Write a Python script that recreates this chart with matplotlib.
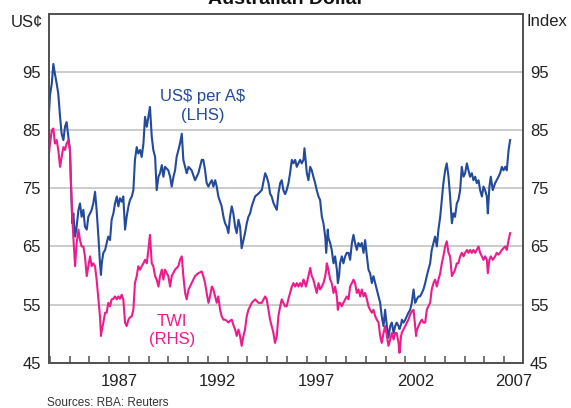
import matplotlib
matplotlib.use("Agg")
import matplotlib.pyplot as plt

plt.rcParams['font.family'] = ['Liberation Sans', 'DejaVu Sans']

# values (decimal years)
dates = [
    1983.96, 1984.01, 1984.10, 1984.18, 1984.26, 1984.35, 1984.43, 1984.52, 1984.60, 1984.69,
    1984.77, 1984.85, 1984.94, 1985.02, 1985.07, 1985.14, 1985.19, 1985.28, 1985.36, 1985.45,
    1985.53, 1985.61, 1985.70, 1985.78, 1985.87, 1985.95, 1986.04, 1986.12, 1986.20, 1986.29,
    1986.37, 1986.46, 1986.54, 1986.59, 1986.63, 1986.71, 1986.80, 1986.88, 1986.96, 1987.05,
    1987.13, 1987.22, 1987.30, 1987.39, 1987.47, 1987.55, 1987.64, 1987.72, 1987.81, 1987.89,
    1987.98, 1988.06, 1988.15, 1988.23, 1988.31, 1988.40, 1988.48, 1988.57, 1988.65, 1988.74,
    1988.82, 1988.91, 1988.99, 1989.07, 1989.16, 1989.24, 1989.33, 1989.41, 1989.50, 1989.58,
    1989.67, 1989.75, 1989.83, 1990.00, 1990.09, 1990.17, 1990.26, 1990.34, 1990.42, 1990.51,
    1990.59, 1990.68, 1990.76, 1990.85, 1990.93, 1991.02, 1991.10, 1991.18, 1991.35, 1991.52,
    1991.69, 1991.77, 1991.86, 1991.94, 1992.03, 1992.11, 1992.20, 1992.28, 1992.37, 1992.45,
    1992.53, 1992.62, 1992.70, 1992.79, 1992.87, 1992.96, 1993.04, 1993.12, 1993.21, 1993.29,
    1993.38, 1993.46, 1993.55, 1993.63, 1993.71, 1993.80, 1993.88, 1993.97, 1994.05, 1994.14,
    1994.22, 1994.39, 1994.56, 1994.73, 1994.90, 1994.98, 1995.07, 1995.15, 1995.23, 1995.32,
    1995.40, 1995.49, 1995.57, 1995.66, 1995.74, 1995.82, 1995.91, 1995.99, 1996.08, 1996.16,
    1996.25, 1996.33, 1996.42, 1996.50, 1996.58, 1996.67, 1996.75, 1996.84, 1996.89, 1996.96,
    1997.01, 1997.09, 1997.18, 1997.26, 1997.34, 1997.43, 1997.51, 1997.60, 1997.68, 1997.77,
    1997.85, 1997.94, 1997.99, 1998.02, 1998.07, 1998.10, 1998.19, 1998.27, 1998.36, 1998.44,
    1998.53, 1998.58, 1998.64, 1998.69, 1998.78, 1998.86, 1998.95, 1999.03, 1999.12, 1999.20,
    1999.29, 1999.37, 1999.45, 1999.54, 1999.62, 1999.71, 1999.79, 1999.88, 1999.96, 2000.05,
    2000.13, 2000.21, 2000.30, 2000.38, 2000.47, 2000.55, 2000.64, 2000.72, 2000.80, 2000.89,
    2000.97, 2001.06, 2001.14, 2001.23, 2001.31, 2001.40, 2001.48, 2001.56, 2001.65, 2001.70,
    2001.78, 2001.82, 2001.90, 2001.99, 2002.07, 2002.15, 2002.24, 2002.32, 2002.41, 2002.49,
    2002.54, 2002.57, 2002.66, 2002.74, 2002.83, 2002.91, 2003.00, 2003.08, 2003.16, 2003.25,
    2003.33, 2003.42, 2003.50, 2003.59, 2003.67, 2003.76, 2003.84, 2003.92, 2004.01, 2004.09,
    2004.18, 2004.26, 2004.35, 2004.43, 2004.51, 2004.60, 2004.68, 2004.77, 2004.85, 2004.94,
    2005.02, 2005.11, 2005.19, 2005.27, 2005.36, 2005.44, 2005.53, 2005.61, 2005.70, 2005.78,
    2005.87, 2005.95, 2006.03, 2006.12, 2006.17, 2006.25, 2006.32, 2006.42, 2006.54, 2006.62,
    2006.71, 2006.79, 2006.88, 2006.96, 2007.05, 2007.13, 2007.22, 2007.30,
]

# US cents per A$ (LHS)
usd_per_aud = [
    88.0, 91.0, 93.0, 96.4, 94.7, 93.0, 91.3, 87.3, 84.4, 83.3,
    85.6, 86.4, 83.9, 81.6, 75.9, 69.0, 70.7, 66.7, 68.4, 71.3,
    72.4, 70.1, 71.3, 68.4, 67.9, 70.1, 70.7, 71.3, 72.4, 74.4,
    71.3, 66.7, 62.1, 60.1, 62.1, 63.9, 64.4, 65.6, 66.7, 66.1,
    69.6, 70.7, 72.4, 73.6, 71.9, 73.3, 72.7, 73.6, 67.9, 70.1,
    71.9, 73.0, 73.6, 74.7, 79.9, 82.1, 81.0, 81.6, 80.4, 82.7,
    87.3, 85.6, 87.3, 89.0, 83.9, 81.6, 80.4, 74.7, 77.0, 77.6,
    79.0, 77.0, 78.7, 78.1, 77.0, 75.3, 77.0, 78.1, 80.4, 81.6,
    82.7, 84.4, 79.9, 78.7, 77.6, 78.7, 78.4, 78.1, 76.4, 77.6,
    79.9, 79.9, 78.1, 75.9, 75.3, 75.9, 76.4, 75.3, 76.4, 75.3,
    73.6, 72.7, 71.9, 70.1, 69.0, 68.4, 67.3, 70.1, 71.9, 70.7,
    68.4, 67.3, 69.6, 68.4, 64.7, 66.1, 67.3, 69.0, 70.1, 70.7,
    71.9, 73.6, 74.1, 74.7, 77.6, 77.0, 75.9, 74.1, 73.6, 72.5,
    71.9, 71.3, 74.1, 75.9, 76.4, 74.7, 74.0, 74.7, 75.9, 77.6,
    79.9, 79.3, 79.9, 78.7, 79.3, 79.9, 79.3, 79.9, 81.9, 79.3,
    77.6, 76.4, 78.7, 78.1, 77.0, 75.9, 74.7, 73.6, 73.0, 70.1,
    69.0, 66.7, 63.9, 65.5, 67.9, 66.5, 65.6, 64.4, 62.1, 63.3,
    61.0, 58.7, 59.9, 62.1, 63.3, 62.1, 63.3, 63.9, 63.9, 62.7,
    65.6, 67.0, 65.6, 64.4, 65.6, 65.0, 65.6, 63.9, 66.1, 63.3,
    61.0, 60.4, 58.7, 59.9, 58.7, 57.6, 56.4, 55.3, 53.0, 51.3,
    54.1, 51.3, 49.3, 51.3, 51.9, 50.1, 51.3, 51.9, 51.3, 50.8,
    51.6, 52.4, 51.9, 52.4, 53.0, 53.6, 54.1, 55.3, 57.6, 55.3,
    55.6, 55.9, 56.4, 56.4, 57.0, 57.6, 58.7, 59.9, 61.0, 62.1,
    64.4, 65.6, 66.7, 65.0, 67.9, 70.1, 73.0, 75.9, 78.1, 79.3,
    77.0, 73.6, 69.0, 70.7, 70.1, 72.4, 73.0, 74.7, 78.7, 77.0,
    77.6, 79.3, 78.1, 77.0, 77.6, 76.4, 77.0, 75.9, 76.4, 74.7,
    73.6, 75.3, 74.7, 73.6, 70.7, 75.3, 77.0, 74.7, 75.9, 76.4,
    77.0, 77.6, 78.7, 78.1, 78.7, 78.1, 81.6, 83.3,
]

# trade-weighted index (RHS)
twi = [
    81.0, 82.7, 85.0, 85.3, 82.7, 83.3, 81.6, 78.7, 80.4, 82.1,
    81.6, 82.7, 83.3, 81.6, 76.0, 70.1, 66.7, 61.6, 65.6, 67.9,
    66.1, 65.0, 65.0, 63.3, 59.9, 61.6, 63.3, 61.6, 62.1, 61.6,
    59.3, 55.9, 53.0, 49.6, 50.5, 51.9, 53.6, 53.6, 55.3, 54.7,
    55.9, 56.0, 56.4, 55.9, 56.4, 56.0, 56.7, 55.9, 51.9, 51.3,
    52.4, 52.8, 53.0, 54.1, 58.7, 59.9, 61.6, 61.0, 61.6, 62.1,
    62.7, 62.1, 64.4, 67.0, 62.1, 61.6, 59.9, 59.3, 58.1, 59.9,
    61.0, 59.3, 61.0, 59.9, 58.1, 59.9, 60.5, 61.0, 61.3, 61.6,
    62.7, 63.3, 59.9, 57.0, 55.9, 57.6, 58.1, 58.7, 59.9, 60.4,
    60.7, 59.9, 58.7, 57.0, 55.3, 56.4, 58.1, 57.6, 56.4, 55.3,
    56.4, 54.1, 53.0, 52.4, 52.4, 52.2, 51.9, 52.2, 52.4, 51.5,
    50.7, 49.6, 50.7, 49.6, 47.9, 49.6, 50.7, 53.0, 54.1, 54.7,
    55.3, 55.9, 55.3, 55.3, 56.4, 55.9, 54.1, 52.4, 51.3, 50.1,
    48.4, 49.6, 53.0, 54.7, 55.9, 55.3, 54.7, 54.7, 56.0, 57.0,
    58.1, 58.7, 58.1, 58.7, 58.1, 58.7, 58.1, 59.3, 58.9, 58.1,
    58.7, 59.9, 61.3, 59.9, 59.3, 58.1, 57.0, 58.7, 57.6, 58.1,
    58.7, 59.9, 61.0, 62.1, 61.5, 61.0, 59.3, 58.7, 57.0, 58.1,
    56.4, 54.1, 55.3, 55.3, 54.7, 55.3, 55.9, 56.4, 55.9, 58.1,
    58.7, 59.3, 58.7, 57.0, 57.6, 56.4, 57.6, 56.4, 57.0, 55.9,
    54.7, 54.1, 53.6, 54.1, 53.0, 52.4, 51.9, 49.6, 48.4, 50.1,
    51.3, 49.6, 47.9, 49.0, 50.1, 49.0, 50.1, 50.1, 48.4, 46.7,
    49.6, 50.2, 50.7, 51.3, 51.9, 52.4, 53.3, 53.8, 54.1, 51.3,
    49.6, 50.5, 51.3, 51.9, 52.4, 51.9, 51.9, 54.1, 54.7, 55.3,
    57.6, 58.7, 59.3, 58.1, 59.3, 60.4, 62.1, 63.3, 65.0, 65.9,
    63.9, 63.3, 59.9, 60.4, 61.0, 62.1, 62.1, 63.3, 63.9, 63.3,
    63.9, 64.4, 63.9, 64.4, 63.9, 64.4, 63.9, 64.4, 65.0, 63.9,
    63.3, 62.7, 63.3, 62.7, 60.4, 62.7, 63.3, 62.7, 63.3, 63.9,
    63.6, 63.9, 64.4, 64.7, 65.0, 64.4, 66.1, 67.3,
]

year_labels = ['1987', '1992', '1997', '2002', '2007']
y_ticks = [45, 55, 65, 75, 85, 95]

blue = '#234a9b'
pink = '#ec1c8c'
frame = '#505050'

fig = plt.figure(figsize=(5.71, 4.08), dpi=100)
ax = fig.add_axes([49 / 571, 1 - 362.7 / 408, (523 - 49) / 571, (362.7 - 14) / 408])
ax2 = ax.twinx()

ax.plot(dates, usd_per_aud, color=blue, lw=1.5)
ax2.plot(dates, twi, color=pink, lw=1.5)

for a in (ax, ax2):
    a.set_xlim(1983.96, 2007.95)
    a.set_ylim(45, 105)
    a.set_yticks(y_ticks)
    for s in a.spines.values():
        s.set_color(frame)
        s.set_linewidth(1.2)
    a.tick_params(axis='y', length=0, labelsize=12, colors='#222222')

ax.tick_params(axis='y', pad=6)
ax2.tick_params(axis='y', pad=5)
ax.grid(axis='y', color='#c8c8c8', lw=1.3)
ax.set_axisbelow(True)

# year boundary ticks, labels centred mid-year
ax.set_xticks(range(1984, 2008))
ax.set_xticklabels([])
ax.tick_params(axis='x', which='major', direction='in', length=5, width=1.1, color=frame)
ax.set_xticks([int(y) + 0.5 for y in year_labels], minor=True)
ax.set_xticklabels(year_labels, minor=True)
ax.tick_params(axis='x', which='minor', length=0, labelsize=12, pad=8, colors='#222222')

ax.text(1991.73, 90.1, r'US\$ per A\$', color=blue, fontsize=12, ha='center', va='baseline')
ax.text(1991.73, 86.8, '(LHS)', color=blue, fontsize=12, ha='center', va='baseline')
ax.text(1990.19, 51.3, 'TWI', color=pink, fontsize=12, ha='center', va='baseline')
ax.text(1990.19, 48.2, '(RHS)', color=pink, fontsize=12, ha='center', va='baseline')

# title sits partly above the top edge, as in the source image
fig.text(286 / 571, 1 - 4 / 408, 'Australian Dollar', fontsize=14, fontweight='bold',
         ha='center', va='baseline', color='#111111')
fig.text(43 / 571, 1 - 15 / 408, 'US¢', fontsize=12, ha='right', va='top', color='#222222')
fig.text(527 / 571, 1 - 14 / 408, 'Index', fontsize=12, ha='left', va='top', color='#222222')
fig.text(47 / 571, 1 - 406 / 408, 'Sources: RBA: Reuters', fontsize=8.5, ha='left',
         va='baseline', color='#333333')

fig.savefig('out.png', dpi=100)
